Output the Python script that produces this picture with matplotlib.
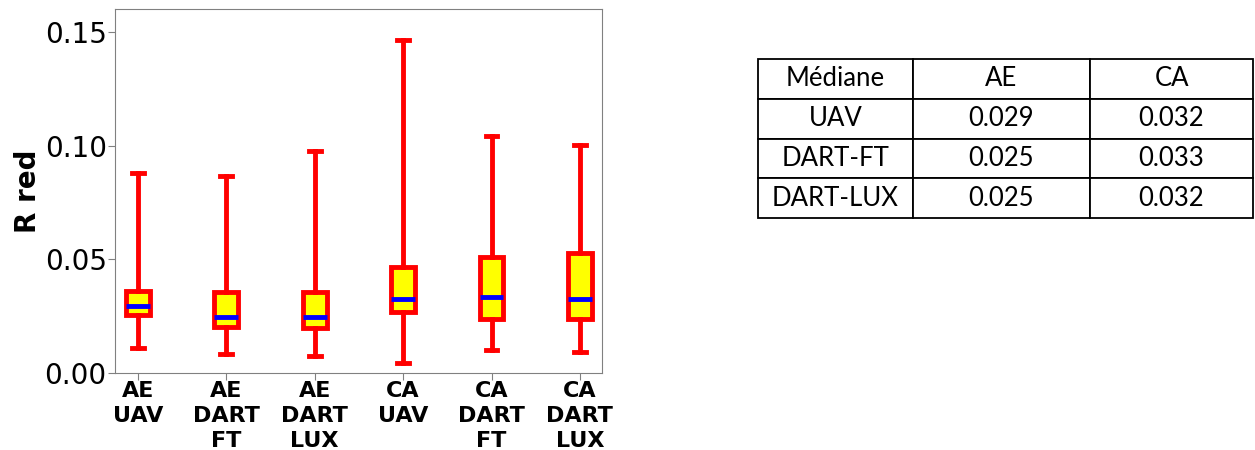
import matplotlib
matplotlib.use('Agg')
import matplotlib.pyplot as plt

labels = ['AE\nUAV', 'AE\nDART\nFT', 'AE\nDART\nLUX', 'CA\nUAV', 'CA\nDART\nFT', 'CA\nDART\nLUX']
whislo = [0.0109, 0.0084, 0.0075, 0.0043, 0.0101, 0.0092]
q1 = [0.0254, 0.0204, 0.0197, 0.0267, 0.0236, 0.0236]
med = [0.0295, 0.0248, 0.0248, 0.0327, 0.0336, 0.0324]
q3 = [0.0362, 0.0357, 0.0357, 0.0468, 0.0512, 0.0530]
whishi = [0.0879, 0.0868, 0.0978, 0.1466, 0.1043, 0.1005]

table_cols = ['Médiane', 'AE', 'CA']
table_rows = ['UAV', 'DART-FT', 'DART-LUX']
table_ae = ['0.029', '0.025', '0.025']
table_ca = ['0.032', '0.033', '0.032']

fig = plt.figure(figsize=(12.55, 4.5), dpi=100)
ax = fig.add_axes([115 / 1255, 1 - 373 / 450, 487 / 1255, 364 / 450])

stats = []
for i in range(len(labels)):
    stats.append({'whislo': whislo[i], 'q1': q1[i], 'med': med[i],
                  'q3': q3[i], 'whishi': whishi[i], 'fliers': [], 'label': labels[i]})

ax.bxp(stats, widths=0.27, patch_artist=True, showfliers=False,
       boxprops=dict(facecolor='yellow', edgecolor='red', linewidth=3.5),
       medianprops=dict(color='blue', linewidth=3.5),
       whiskerprops=dict(color='red', linewidth=3.5),
       capprops=dict(color='red', linewidth=3.5))

ax.set_xlim(0.74, 6.25)
ax.set_ylim(0, 0.1602)
ax.set_yticks([0, 0.05, 0.10, 0.15])
ax.set_yticklabels(['0.00', '0.05', '0.10', '0.15'], fontsize=20)
for lab in ax.get_xticklabels():
    lab.set_fontsize(16)
    lab.set_fontweight('bold')
    lab.set_linespacing(1.3)
ax.set_ylabel('R red', fontsize=20, fontweight='bold', labelpad=2)
for s in ax.spines.values():
    s.set_color('#808080')
ax.tick_params(color='#808080', length=5, pad=1)

# median table on the right
tax = fig.add_axes([758 / 1255, 1 - 218 / 450, 495 / 1255, 159 / 450])
tax.axis('off')
cells = [[table_rows[i], table_ae[i], table_ca[i]] for i in range(len(table_rows))]
tbl = tax.table(cellText=cells, colLabels=table_cols, cellLoc='center',
                bbox=[0, 0, 1, 1], colWidths=[155, 177, 163])
tbl.auto_set_font_size(False)
for (r, c), cell in tbl.get_celld().items():
    cell.set_linewidth(1.3)
    cell.get_text().set_fontsize(18.5)
    cell.get_text().set_fontfamily('Lato')

fig.savefig('out.png', dpi=100)
